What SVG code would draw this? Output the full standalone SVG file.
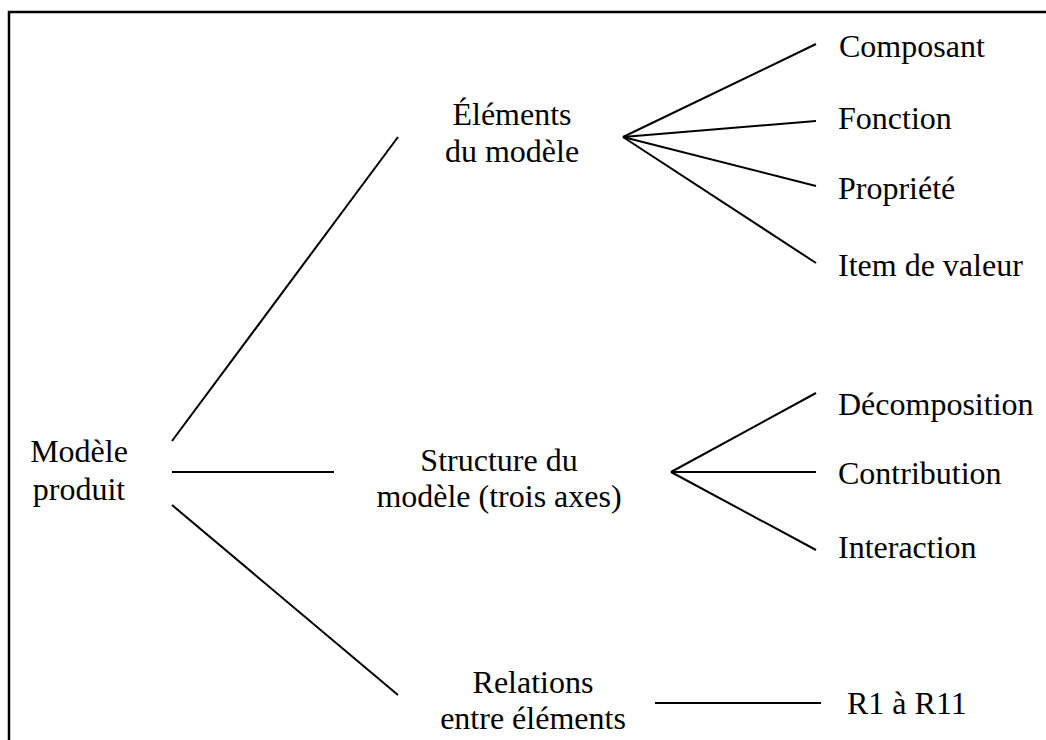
<svg xmlns="http://www.w3.org/2000/svg" width="1046" height="740" viewBox="0 0 1046 740">
<style>
text{font-family:"Liberation Serif","Times New Roman",serif;font-size:32px;fill:#000}
.c{text-anchor:middle}
line,polyline{stroke:#000;stroke-width:2;fill:none}
</style>
<rect x="0" y="0" width="1046" height="740" fill="#fff"/>
<polyline points="9,740 9,12 1046,12" style="stroke-width:2.5"/>
<g id="connectors">
<line x1="172" y1="441" x2="398" y2="137"/>
<line x1="172" y1="472" x2="334" y2="472"/>
<line x1="172" y1="505" x2="398" y2="695"/>
<line x1="623" y1="137" x2="816" y2="44"/>
<line x1="623" y1="137" x2="816" y2="121"/>
<line x1="623" y1="137" x2="816" y2="186"/>
<line x1="623" y1="137" x2="816" y2="263"/>
<line x1="671" y1="472" x2="816" y2="393"/>
<line x1="671" y1="472" x2="816" y2="472"/>
<line x1="671" y1="472" x2="816" y2="550"/>
<line x1="655" y1="703" x2="821" y2="703"/>
</g>
<g id="modele-produit"><text class="c" x="79" y="462">Modèle</text><text class="c" x="79" y="500">produit</text></g>
<g id="elements"><text class="c" x="512" y="125">Éléments</text><text class="c" x="512" y="162">du modèle</text></g>
<g id="structure"><text class="c" x="499" y="471">Structure du</text><text class="c" x="499" y="507">modèle (trois axes)</text></g>
<g id="relations"><text class="c" x="533" y="693">Relations</text><text class="c" x="533" y="729">entre éléments</text></g>
<g id="composant"><text x="839" y="57">Composant</text></g>
<g id="fonction"><text x="838" y="129">Fonction</text></g>
<g id="propriete"><text x="838" y="199">Propriété</text></g>
<g id="item"><text x="838" y="276">Item de valeur</text></g>
<g id="decomposition"><text x="838" y="415">Décomposition</text></g>
<g id="contribution"><text x="838" y="484">Contribution</text></g>
<g id="interaction"><text x="838" y="558">Interaction</text></g>
<g id="r1r11"><text x="847" y="714">R1 à R11</text></g>
</svg>
